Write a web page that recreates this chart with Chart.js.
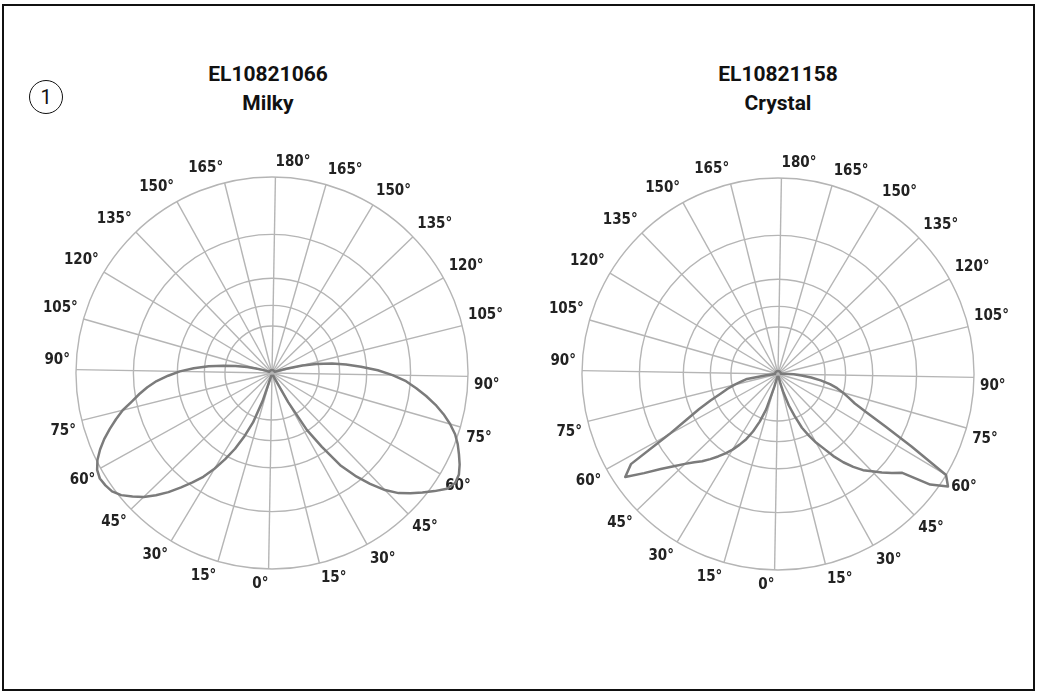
<!DOCTYPE html>
<html>
<head>
<meta charset="utf-8">
<script src="https://cdn.jsdelivr.net/npm/chart.js@4.4.0/dist/chart.umd.min.js"></script>
<style>
  body { margin: 0; background: #fff; width: 1037px; height: 693px; position: relative; overflow: hidden; font-family: Roboto, "Liberation Sans", sans-serif; }
  .frame { position: absolute; left: 2px; top: 4px; width: 1029px; height: 683px; border: 2px solid #111; }
  .badge { position: absolute; left: 29px; top: 80px; width: 32px; height: 32px; border: 1.5px solid #111; border-radius: 50%; text-align: center; line-height: 32px; font-size: 20px; color: #111; }
  .title { position: absolute; top: 60px; width: 300px; text-align: center; font-weight: 700; font-size: 21px; line-height: 29px; color: #111; }
  canvas { position: absolute; }
</style>
</head>
<body>
<div class="frame"></div>
<div class="badge">1</div>
<div class="title" style="left:118px">EL10821066<br>Milky</div>
<div class="title" style="left:628px">EL10821158<br>Crystal</div>
<canvas id="milkyChart" width="506" height="440" style="left:20px;top:154px"></canvas>
<canvas id="crystalChart" width="506" height="440" style="left:526px;top:155px"></canvas>
<script>
const milkyChart = document.getElementById("milkyChart");
const crystalChart = document.getElementById("crystalChart");

// relative intensity, one value every 2.5 deg from 0 (down) to 180 (up)
const step = 2.5;
const milkyLeft = [
  1.5, 1.5, 1.5, 1.5, 1.5, 1.5, 2, 15, 27, 35,
  43, 50, 57, 63.5, 69, 74.5, 80.5, 86, 91, 95,
  99, 101.5, 102.5, 103, 102, 99.5, 96, 92, 87.5, 83,
  78.5, 73, 68.5, 64, 59, 53, 47, 40, 32.5, 25,
  19, 13, 8.5, 5, 3, 2,
  1.5, 1.5, 1.5, 1.5, 1.5, 1.5, 1.5, 1.5, 1.5, 1.5,
  1.5, 1.5, 1.5, 1.5, 1.5, 1.5, 1.5, 1.5, 1.5, 1.5,
  1.5, 1.5, 1.5, 1.5, 1.5, 1.5, 1.5,
];
const milkyRight = [
  1.5, 1.5, 1.5, 1.5, 1.5, 1.5, 1.5, 1.5, 1.5, 1.5,
  1.5, 3, 17, 34, 45.5, 58.5, 67.5, 75.5, 83, 89,
  93.5, 98, 102.5, 107, 109, 108.5, 106.5, 104, 101.5, 98.5,
  94.5, 90, 85, 79.5, 74, 68.5, 61.5, 54, 45.5, 38,
  31, 23, 16, 7.5, 4, 2,
  1.5, 1.5, 1.5, 1.5, 1.5, 1.5, 1.5, 1.5, 1.5, 1.5,
  1.5, 1.5, 1.5, 1.5, 1.5, 1.5, 1.5, 1.5, 1.5, 1.5,
  1.5, 1.5, 1.5, 1.5, 1.5, 1.5, 1.5,
];
const crystalLeft = [
  1.5, 1.5, 1.5, 1.5, 1.5, 1.5, 7, 19, 26, 32,
  37, 41, 45, 48.5, 52, 55.5, 59, 62, 66, 71,
  77, 85, 94, 88, 63.5, 52, 44, 37, 31, 27,
  23, 19, 16, 6, 3, 2,
  1.5, 1.5, 1.5, 1.5, 1.5, 1.5, 1.5, 1.5, 1.5, 1.5,
  1.5, 1.5, 1.5, 1.5, 1.5, 1.5, 1.5, 1.5, 1.5, 1.5,
  1.5, 1.5, 1.5, 1.5, 1.5, 1.5, 1.5, 1.5, 1.5, 1.5,
  1.5, 1.5, 1.5, 1.5, 1.5, 1.5, 1.5,
];
const crystalRight = [
  1.5, 1.5, 1.5, 1.5, 1.5, 1.5, 5, 10, 17, 23,
  30, 35, 40, 44.5, 50.5, 56, 61, 65.5, 69, 73,
  77, 81, 96, 104, 100, 77.5, 61, 49.5, 42, 38,
  34.5, 31, 27, 22, 17, 12, 8, 2.5,
  1.5, 1.5, 1.5, 1.5, 1.5, 1.5, 1.5, 1.5, 1.5, 1.5,
  1.5, 1.5, 1.5, 1.5, 1.5, 1.5, 1.5, 1.5, 1.5, 1.5,
  1.5, 1.5, 1.5, 1.5, 1.5, 1.5, 1.5, 1.5, 1.5, 1.5,
  1.5, 1.5, 1.5, 1.5, 1.5,
];
const rings = [0, 24, 34.5, 48.3, 70.7, 100];
const tickEvery = 15;

// angles go 0 -> 180 up the left side, then back down to 0 on the right
const angles = [];
for (let a = 0; a < 360; a += step) angles.push(a <= 180 ? a : 360 - a);
const labels = angles.map((a) => (a % tickEvery === 0 ? a + "°" : ""));

function fullCircle(left, right) {
  return left.concat(right.slice(1, right.length - 1).reverse());
}

const gridColor = "#b5b5b5";
const labelFont = '"Liberation Sans Narrow", "DejaVu Sans Condensed", Roboto, sans-serif';

function polarConfig(values) {
  return {
    type: "radar",
    data: {
      labels: labels,
      datasets: [
        {
          data: values,
          borderColor: "#7b7b7b",
          borderWidth: 2.5,
          borderJoinStyle: "round",
          pointRadius: 0,
          fill: false,
          tension: 0,
        },
      ],
    },
    options: {
      responsive: false,
      animation: false,
      plugins: { legend: { display: false }, tooltip: { enabled: false } },
      scales: {
        r: {
          min: 0,
          max: 100,
          startAngle: 181,
          afterBuildTicks: (scale) => {
            scale.ticks = rings.map((v) => ({ value: v }));
          },
          ticks: { display: false },
          grid: { circular: true, color: gridColor, lineWidth: 1.4 },
          angleLines: {
            color: (ctx) => (ctx.index % 6 === 0 ? gridColor : "rgba(0,0,0,0)"),
            lineWidth: (ctx) => (ctx.index % 6 === 0 ? 1.4 : 0),
          },
          pointLabels: {
            padding: 6,
            color: "#222",
            font: { family: labelFont, size: 15, weight: "bold" },
          },
        },
      },
    },
  };
}

new Chart(milkyChart, polarConfig(fullCircle(milkyLeft, milkyRight)));
new Chart(crystalChart, polarConfig(fullCircle(crystalLeft, crystalRight)));
</script>
</body>
</html>
